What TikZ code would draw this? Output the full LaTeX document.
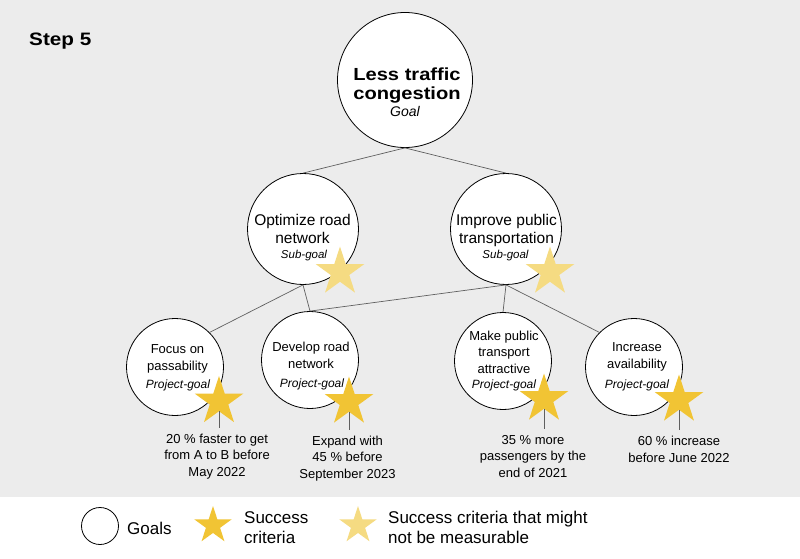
\documentclass[tikz,border=0pt]{standalone}
\usepackage{fontspec}
\setmainfont{Liberation Sans}
\newfontfamily\widebold{Liberation Sans Bold}[FakeStretch=1.15]
\usetikzlibrary{shapes.geometric}
\definecolor{bggray}{RGB}{236,236,236}
\definecolor{stargold}{RGB}{241,196,52}
\definecolor{starpale}{RGB}{245,219,130}
\definecolor{linkgray}{RGB}{95,95,95}

\begin{document}
\begin{tikzpicture}[x=1pt, y=-1pt,
    goalring/.style={circle, draw=black, line width=0.8pt, fill=white, inner sep=0pt},
    link/.style={draw=linkgray, line width=0.7pt},
    starnode/.style={star, star points=5, star point ratio=2.618, inner sep=0pt, minimum size=#1},
    gold/.style={starnode=#1, fill=stargold},
    pale/.style={starnode=#1, fill=starpale},
    headtxt/.style={align=center, anchor=base, font=\widebold\fontsize{17.5}{20}\selectfont},
    subtxt/.style={align=center, anchor=base, font=\fontsize{15.5}{18}\selectfont},
    projtxt/.style={align=center, anchor=base, font=\fontsize{13}{16.5}\selectfont},
    kindtxt/.style={anchor=base, font=\itshape\fontsize{#1}{#1}\selectfont},
    crittxt/.style={align=center, anchor=base, font=\fontsize{13}{16.2}\selectfont},
    legtxt/.style={align=left, anchor=base west, inner sep=0pt, font=\fontsize{17}{20}\selectfont}
]

% Canvas
\useasboundingbox (0,0) rectangle (800,559);
\fill[white] (0,0) rectangle (800,559);
\fill[bggray] (0,0) rectangle (800,497);

\node[anchor=base west, inner sep=0pt, font=\widebold\fontsize{18}{20}\selectfont] (step) at (29,46) {Step 5};

% Goal circles
\node[goalring, minimum size=135] (goal) at (405,80) {};
\node[goalring, minimum size=111] (sub1) at (303,229) {};
\node[goalring, minimum size=111] (sub2) at (506,229) {};
\node[goalring, minimum size=97] (proj1) at (175,367) {};
\node[goalring, minimum size=97] (proj2) at (310,360) {};
\node[goalring, minimum size=97] (proj3) at (503,361) {};
\node[goalring, minimum size=97] (proj4) at (634,367) {};

% Links
\draw[link] (goal.south) -- (sub1.north);
\draw[link] (goal.south) -- (sub2.north);
\draw[link] (sub1.south) -- (proj1.north east);
\draw[link] (sub1.south) -- (proj2.north);
\draw[link] (sub2.south) -- (proj2.north);
\draw[link] (sub2.south) -- (proj3.north);
\draw[link] (sub2.south) -- (proj4.north west);

% Texts in the circles
\node[headtxt] (goaltxt) at (407,100) {Less traffic\\congestion};
\node[kindtxt=14] (goalkind) at (405,117) {Goal};

\node[subtxt] (sub1txt) at (302.5,243) {Optimize road\\network};
\node[kindtxt=11.5] (sub1kind) at (304,258) {Sub-goal};
\node[subtxt] (sub2txt) at (506.5,243) {Improve public\\transportation};
\node[kindtxt=11.5] (sub2kind) at (505.5,258) {Sub-goal};

\node[projtxt] (proj1txt) at (177.5,370) {Focus on\\passability};
\node[kindtxt=12] (proj1kind) at (178,388) {Project-goal};
\node[projtxt] (proj2txt) at (311,368) {Develop road\\network};
\node[kindtxt=12] (proj2kind) at (312,387) {Project-goal};
\node[projtxt] (proj3txt) at (504,373) {Make public\\transport\\attractive};
\node[kindtxt=12] (proj3kind) at (504,388) {Project-goal};
\node[projtxt] (proj4txt) at (637,368) {Increase\\availability};
\node[kindtxt=12] (proj4kind) at (637,388) {Project-goal};

% Stars
\node[pale=51] (sub1star) at (340,272) {};
\node[pale=51] (sub2star) at (550,272) {};
\node[gold=51] (star1) at (219,401.5) {};
\node[gold=51] (star2) at (349,402) {};
\node[gold=51] (star3) at (544,399) {};
\node[gold=51] (star4) at (679,400) {};

% Success criteria
\node[crittxt] (crit1) at (217,476) {20 \% faster to get\\from A to B before\\May 2022};
\node[crittxt] (crit2) at (347.5,478) {Expand with\\45 \% before\\September 2023};
\node[crittxt] (crit3) at (533,477) {35 \% more\\passengers by the\\end of 2021};
\node[crittxt] (crit4) at (679,462) {60 \% increase\\before June 2022};

\foreach \i in {1,...,4}
  \draw[link, shorten >=3pt] (star\i.south) -- (star\i.south |- crit\i.north);

% Legend
\node[goalring, minimum size=37] (keygoal) at (100,526) {};
\node[legtxt] (keygoaltxt) at (127,534) {Goals};
\node[gold=39] (keygold) at (213,525.5) {};
\node[legtxt] (keygoldtxt) at (244,543) {Success\\criteria};
\node[pale=39] (keypale) at (358,525.5) {};
\node[legtxt] (keypaletxt) at (388,543) {Success criteria that might\\not be measurable};

\end{tikzpicture}
\end{document}
